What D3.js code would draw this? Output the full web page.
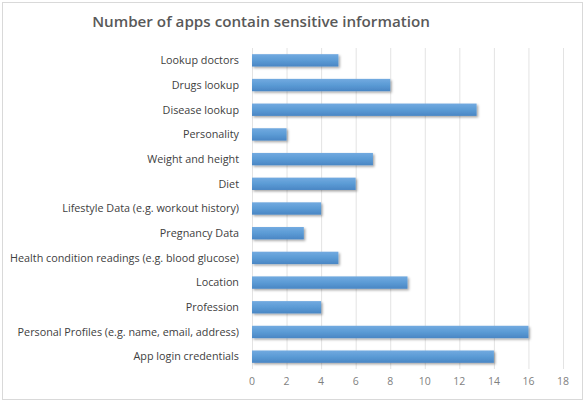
<!DOCTYPE html>
<html>
<head>
<meta charset="utf-8">
<script src="https://cdn.jsdelivr.net/npm/d3@7"></script>
<style>
  body { margin: 0; background: #fff; }
  svg { display: block; }
</style>
</head>
<body>
<div id="chart"></div>
<script>
// data
const categories = ["Lookup doctors", "Drugs lookup", "Disease lookup", "Personality",
    "Weight and height", "Diet", "Lifestyle Data (e.g. workout history)", "Pregnancy Data",
    "Health condition readings (e.g. blood glucose)", "Location", "Profession",
    "Personal Profiles (e.g. name, email, address)", "App login credentials"];
const counts = [5, 8, 13, 2, 7, 6, 4, 3, 5, 9, 4, 16, 14];
const xTicks = [0, 2, 4, 6, 8, 10, 12, 14, 16, 18];
const title = "Number of apps contain sensitive information";

const width = 585, height = 406;
const margin = {top: 48, right: 22, bottom: 37, left: 252};

let data = categories.map((c, i) => ({name: c, count: counts[i]}));

let svg = d3.select('#chart')
    .append("svg")
    .attr("width", width)
    .attr("height", height);

// outer frame
svg.append("rect")
    .attr("x", 2.5).attr("y", 2.5)
    .attr("width", width - 5).attr("height", height - 9)
    .attr("fill", "#fff")
    .attr("stroke", "#d9d9d9");

let defs = svg.append("defs");
let grad = defs.append("linearGradient")
    .attr("id", "barGrad")
    .attr("x1", 0).attr("y1", 0).attr("x2", 0).attr("y2", 1);
grad.append("stop").attr("offset", "0%").attr("stop-color", "#72aae0");
grad.append("stop").attr("offset", "50%").attr("stop-color", "#5b9bd5");
grad.append("stop").attr("offset", "100%").attr("stop-color", "#4a86c4");

let shadow = defs.append("filter").attr("id", "shadow")
    .attr("x", "-5%").attr("y", "-30%").attr("width", "115%").attr("height", "180%");
shadow.append("feDropShadow")
    .attr("dx", 1.5).attr("dy", 1.5).attr("stdDeviation", 1)
    .attr("flood-color", "#000").attr("flood-opacity", 0.35);

let x = d3.scaleLinear()
    .domain([0, 18])
    .range([margin.left, width - margin.right]);

let y = d3.scaleBand()
    .domain(categories)
    .range([margin.top, height - margin.bottom])
    .paddingInner(0.5)
    .paddingOuter(0.25);

// gridlines
svg.append("g")
    .selectAll("line")
    .data(xTicks)
    .enter()
    .append("line")
    .attr("x1", d => x(d) + 0.5)
    .attr("x2", d => x(d) + 0.5)
    .attr("y1", margin.top)
    .attr("y2", height - margin.bottom)
    .attr("stroke", "#e3e3e3");

// x tick labels
svg.append("g")
    .selectAll("text")
    .data(xTicks)
    .enter()
    .append("text")
    .attr("x", d => x(d))
    .attr("y", height - margin.bottom + 16)
    .style("text-anchor", "middle")
    .style("font-family", "'Open Sans', sans-serif")
    .style("font-size", "10.5px")
    .style("fill", "#7f7f7f")
    .text(d => d);

// category labels
svg.append("g")
    .selectAll("text")
    .data(data)
    .enter()
    .append("text")
    .attr("x", margin.left - 13)
    .attr("y", d => y(d.name) + y.bandwidth() / 2)
    .attr("dy", "0.35em")
    .style("text-anchor", "end")
    .style("font-family", "'Open Sans', sans-serif")
    .style("font-size", "10.8px")
    .style("fill", "#404040")
    .text(d => d.name);

// bars
svg.append("g")
    .selectAll("rect")
    .data(data)
    .enter()
    .append("rect")
    .attr("x", x(0))
    .attr("y", d => y(d.name))
    .attr("width", d => x(d.count) - x(0))
    .attr("height", y.bandwidth())
    .attr("fill", "url(#barGrad)")
    .attr("filter", "url(#shadow)");

svg.append("text")
    .attr("x", 261)
    .attr("y", 27)
    .style("text-anchor", "middle")
    .style("font-family", "'Open Sans', sans-serif")
    .style("font-weight", "600")
    .style("font-size", "15.2px")
    .style("fill", "#595959")
    .text(title);
</script>
</body>
</html>
